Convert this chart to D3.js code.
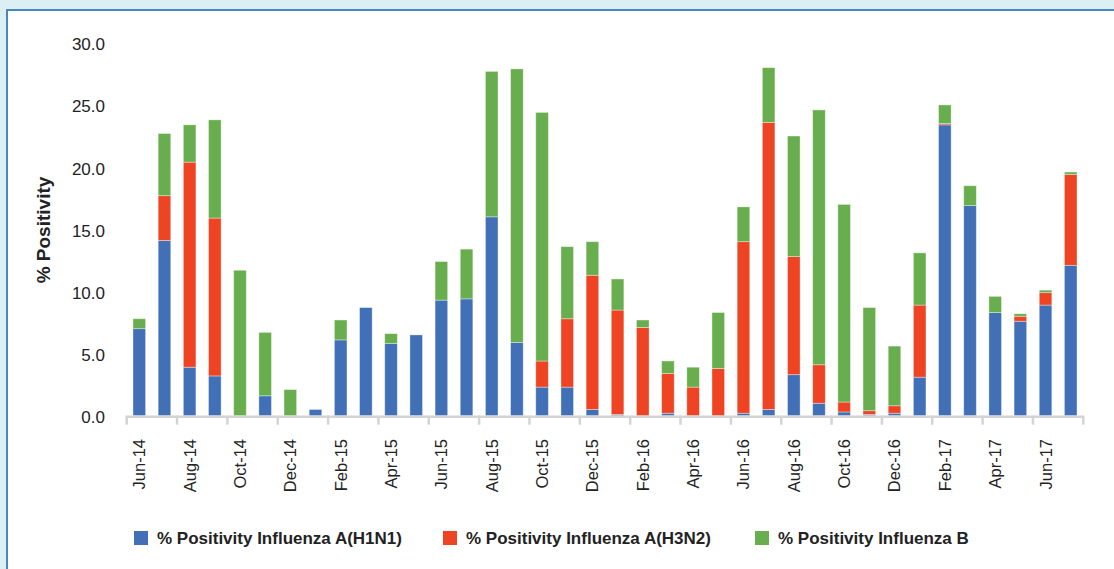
<!DOCTYPE html>
<html>
<head>
<meta charset="utf-8">
<script src="https://cdn.jsdelivr.net/npm/d3@7/dist/d3.min.js"></script>
<style>
  html, body { margin: 0; padding: 0; background: #dcf0f4; }
  svg { display: block; }
  text { font-family: "Liberation Sans", Arial, sans-serif; fill: #222; }
</style>
</head>
<body>
<svg id="chart" width="1114" height="569"></svg>
<script>
// Monthly positivity by influenza type, Jun-14 to Jul-17
const months = [
  "Jun-14","Jul-14","Aug-14","Sep-14","Oct-14","Nov-14","Dec-14",
  "Jan-15","Feb-15","Mar-15","Apr-15","May-15","Jun-15","Jul-15","Aug-15","Sep-15","Oct-15","Nov-15","Dec-15",
  "Jan-16","Feb-16","Mar-16","Apr-16","May-16","Jun-16","Jul-16","Aug-16","Sep-16","Oct-16","Nov-16","Dec-16",
  "Jan-17","Feb-17","Mar-17","Apr-17","May-17","Jun-17","Jul-17"
];
const h1n1 = [7.0,14.1,3.9,3.2,0,1.6,0,0.5,6.1,8.7,5.8,6.5,9.3,9.4,16.0,5.9,2.3,2.3,0.5,0.1,0,0.2,0,0,0.2,0.5,3.3,1.0,0.3,0.1,0.2,3.1,23.4,16.9,8.3,7.6,8.9,12.1];
const h3n2 = [0,3.6,16.5,12.7,0,0,0,0,0,0,0,0,0,0,0,0,2.1,5.5,10.8,8.4,7.1,3.2,2.3,3.8,13.8,23.1,9.5,3.1,0.8,0.3,0.6,5.8,0.1,0,0,0.4,1.0,7.3];
const fluB = [0.8,5.0,3.0,7.9,11.7,5.1,2.1,0,1.6,0,0.8,0,3.1,4.0,11.7,22.0,20.0,5.8,2.7,2.5,0.6,1.0,1.6,4.5,2.8,4.4,9.7,20.5,15.9,8.3,4.8,4.2,1.5,1.6,1.3,0.2,0.2,0.2];
const yTicks = [0, 5, 10, 15, 20, 25, 30];
const seriesNames = [
  "% Positivity Influenza A(H1N1)",
  "% Positivity Influenza A(H3N2)",
  "% Positivity Influenza B"
];
const seriesColors = ["#4270b7", "#ef4423", "#69ae4e"];

const svg = d3.select("#chart");

// Panel
svg.append("rect").attr("x", 0).attr("y", 0).attr("width", 1114).attr("height", 569).attr("fill", "#dcf0f4");
svg.append("rect").attr("x", 7).attr("y", 10).attr("width", 1120).attr("height", 580)
  .attr("fill", "#ffffff").attr("stroke", "#4a86c6").attr("stroke-width", 2);

const x = d3.scaleBand().domain(months).range([126.7, 1083.3]).padding(0);
const y = d3.scaleLinear().domain([0, 30]).range([415.7, 42.8]);
const barW = x.bandwidth() * 0.5;

// Stack the three series
const rows = months.map((m, i) => ({ month: m, a: h1n1[i], b: h3n2[i], c: fluB[i] }));
const stacked = d3.stack().keys(["a", "b", "c"])(rows);

const g = svg.append("g");
stacked.forEach((layer, li) => {
  g.selectAll(null).data(layer).enter().append("rect")
    .attr("x", d => x(d.data.month) + (x.bandwidth() - barW) / 2)
    .attr("y", d => y(d[1]))
    .attr("width", barW)
    .attr("height", d => Math.max(0, y(d[0]) - y(d[1])))
    .attr("fill", seriesColors[li])
    .attr("stroke", "rgba(255,255,255,0.45)")
    .attr("stroke-width", d => (d[1] - d[0]) > 0 ? 0.8 : 0);
});

// Y axis labels (no axis line)
svg.append("g").selectAll("text").data(yTicks).enter().append("text")
  .attr("x", 105).attr("y", d => y(d) + 2)
  .attr("text-anchor", "end").attr("dominant-baseline", "central")
  .style("font-size", "17px")
  .text(d => d.toFixed(1));

// X axis line and ticks every two months
const axisColor = "#d4d4d4";
svg.append("line")
  .attr("x1", x.range()[0]).attr("x2", x.range()[1])
  .attr("y1", y(0) + 1).attr("y2", y(0) + 1)
  .attr("stroke", axisColor).attr("stroke-width", 2.5);
const tickMonths = months.filter((m, i) => i % 2 === 0);
const tickXs = tickMonths.map(m => x(m)).concat([x.range()[1]]);
svg.append("g").selectAll("line").data(tickXs).enter().append("line")
  .attr("x1", d => d).attr("x2", d => d)
  .attr("y1", y(0)).attr("y2", y(0) + 9)
  .attr("stroke", axisColor).attr("stroke-width", 2.5);

// X labels (rotated)
svg.append("g").selectAll("text").data(tickMonths).enter().append("text")
  .attr("transform", m => `translate(${x(m) + x.bandwidth() / 2},439) rotate(-90)`)
  .attr("text-anchor", "end").attr("dominant-baseline", "central")
  .style("font-size", "16.5px")
  .text(m => m);

// Y axis title
svg.append("text")
  .attr("transform", "translate(43,230) rotate(-90)")
  .attr("text-anchor", "middle").attr("dominant-baseline", "central")
  .style("font-size", "19px").style("font-weight", "bold")
  .text("% Positivity");

// Legend
const legendX = [134, 443, 755];
const legend = svg.append("g");
seriesNames.forEach((name, i) => {
  legend.append("rect").attr("x", legendX[i]).attr("y", 531).attr("width", 14).attr("height", 14)
    .attr("fill", seriesColors[i]);
  legend.append("text").attr("x", legendX[i] + 23).attr("y", 538)
    .attr("dominant-baseline", "central")
    .style("font-size", "17px").style("font-weight", "bold")
    .text(name);
});
</script>
</body>
</html>
